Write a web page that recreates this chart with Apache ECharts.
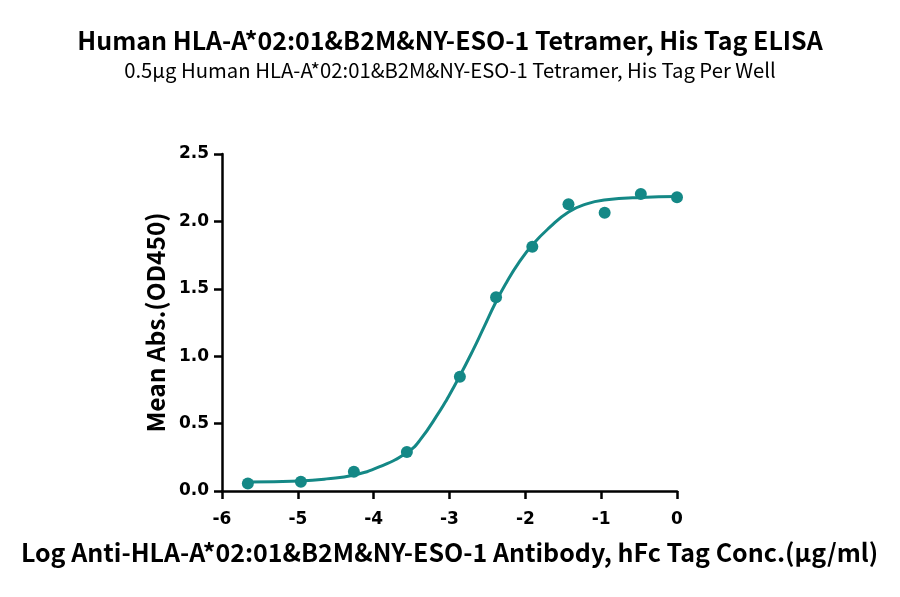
<!DOCTYPE html>
<html>
<head>
<meta charset="utf-8">
<script src="https://cdn.jsdelivr.net/npm/echarts@6/dist/echarts.min.js"></script>
<style>html,body{margin:0;padding:0;background:#fff}#c{width:900px;height:597px}</style>
</head>
<body>
<div id="c"></div>
<script>
var titleText = 'Human HLA-A*02:01&B2M&NY-ESO-1 Tetramer, His Tag ELISA';
var subtitleText = '0.5\u00b5g Human HLA-A*02:01&B2M&NY-ESO-1 Tetramer, His Tag Per Well';
var xAxisName = 'Log Anti-HLA-A*02:01&B2M&NY-ESO-1 Antibody, hFc Tag Conc.(\u00b5g/ml)';
var yAxisName = 'Mean Abs.(OD450)';

var logConc = [-5.659, -4.960, -4.261, -3.562, -2.863, -2.386, -1.908, -1.431, -0.954, -0.477, 0];
var meanAbs = [0.056, 0.068, 0.142, 0.290, 0.847, 1.437, 1.812, 2.127, 2.065, 2.203, 2.179];

var curveX = [-5.66, -4.97, -4.62, -4.27, -3.92, -3.56, -3.39, -3.12, -3.04, -2.87, -2.69, -2.55, -2.39, -2.25, -2.09, -1.90, -1.68, -1.43, -1.19, -0.96, -0.48, 0];
var curveY = [0.066, 0.075, 0.090, 0.117, 0.180, 0.286, 0.377, 0.600, 0.674, 0.847, 1.045, 1.210, 1.400, 1.545, 1.690, 1.830, 1.955, 2.070, 2.130, 2.158, 2.178, 2.184];

var xTicks = {min: -6, max: 0, interval: 1};
var yTicks = {min: 0, max: 2.5, interval: 0.5};

var color = '#148886';
var font = '"Noto Sans CJK SC", "Noto Sans", sans-serif';
var tickFont = '"DejaVu Sans", Verdana, sans-serif';

var chart = echarts.init(document.getElementById('c'));
chart.setOption({
  backgroundColor: '#fff',
  animation: false,
  title: [
    {text: titleText, left: 'center', top: 23, textStyle: {fontFamily: font, fontSize: 25, fontWeight: 'bold', color: '#000'}},
    {text: subtitleText, left: 'center', top: 55, textStyle: {fontFamily: font, fontSize: 20.3, fontWeight: 'normal', color: '#000'}}
  ],
  grid: {left: 222, right: 223, top: 154, bottom: 106, containLabel: false},
  xAxis: {
    type: 'value', min: xTicks.min, max: xTicks.max, interval: xTicks.interval,
    name: xAxisName, nameLocation: 'middle', nameGap: 49,
    nameTextStyle: {fontFamily: font, fontSize: 25, fontWeight: 'bold', color: '#000'},
    axisLine: {show: true, onZero: false, lineStyle: {color: '#000', width: 2.5}},
    axisTick: {show: true, length: 8, lineStyle: {color: '#000', width: 2.5}},
    axisLabel: {fontFamily: tickFont, fontSize: 17, fontWeight: 'bold', color: '#000', margin: 20},
    splitLine: {show: false}
  },
  yAxis: {
    type: 'value', min: yTicks.min, max: yTicks.max, interval: yTicks.interval,
    name: yAxisName, nameLocation: 'middle', nameGap: 53,
    nameTextStyle: {fontFamily: font, fontSize: 24.5, fontWeight: 'bold', color: '#000'},
    axisLine: {show: true, onZero: false, lineStyle: {color: '#000', width: 2.5}},
    axisTick: {show: true, length: 8, lineStyle: {color: '#000', width: 2.5}},
    axisLabel: {fontFamily: tickFont, fontSize: 17, fontWeight: 'bold', color: '#000', margin: 13,
      formatter: function (v) { return v.toFixed(1); }},
    splitLine: {show: false}
  },
  series: [
    {
      type: 'line', smooth: 0.5, showSymbol: false, symbol: 'none',
      data: curveX.map(function (x, i) { return [x, curveY[i]]; }),
      lineStyle: {color: color, width: 3}, z: 2
    },
    {
      type: 'scatter', symbol: 'circle', symbolSize: 12,
      data: logConc.map(function (x, i) { return [x, meanAbs[i]]; }),
      itemStyle: {color: color, opacity: 1}, z: 3
    }
  ]
});
</script>
</body>
</html>
